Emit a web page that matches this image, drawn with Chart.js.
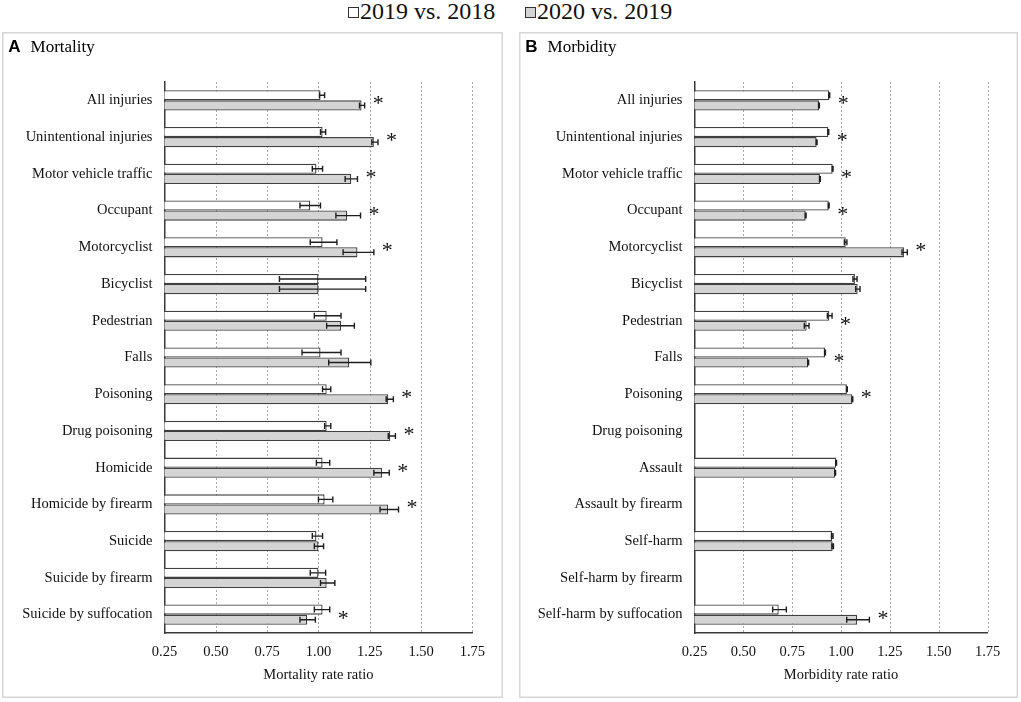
<!DOCTYPE html>
<html><head><meta charset="utf-8">
<script src="https://cdn.jsdelivr.net/npm/chart.js@4.4.0/dist/chart.umd.min.js"></script>
<style>
html,body{margin:0;padding:0;background:#fff;width:1021px;height:702px;overflow:hidden;font-family:"Liberation Serif","Times New Roman",serif;}
.panel{position:absolute;top:32px;height:666px;}
.lbox{position:absolute;top:7px;width:9px;height:9px;border:1px solid #333;}
.ltxt{position:absolute;top:-1px;font-size:24px;line-height:24px;color:#111;white-space:nowrap;}
</style></head><body>
<div id="legend">
  <span class="lbox" style="left:348px;background:#fff"></span><span class="ltxt" id="lt1" style="left:360px"></span>
  <span class="lbox" style="left:525px;background:#d4d4d4"></span><span class="ltxt" id="lt2" style="left:537px"></span>
</div>
<div class="panel" style="left:2px;width:501px"><canvas id="c1"></canvas></div>
<div class="panel" style="left:519px;width:499px"><canvas id="c2"></canvas></div>
<script>
// ---------- data ----------
const seriesNames = ['2019 vs. 2018', '2020 vs. 2019'];
const xTickValues = [0.25, 0.50, 0.75, 1.00, 1.25, 1.50, 1.75];

const mortCategories = ['All injuries','Unintentional injuries','Motor vehicle traffic','Occupant','Motorcyclist','Bicyclist','Pedestrian','Falls','Poisoning','Drug poisoning','Homicide','Homicide by firearm','Suicide','Suicide by firearm','Suicide by suffocation'];
const mort2019 = [1.01, 1.02, 0.99, 0.96, 1.02, 1.00, 1.04, 1.01, 1.04, 1.04, 1.02, 1.03, 0.99, 1.00, 1.02];
const mort2019Lo = [1.005, 1.01, 0.97, 0.91, 0.96, 0.81, 0.98, 0.92, 1.02, 1.03, 0.99, 1.00, 0.97, 0.96, 0.98];
const mort2019Hi = [1.03, 1.035, 1.02, 1.01, 1.09, 1.23, 1.11, 1.11, 1.06, 1.06, 1.055, 1.07, 1.02, 1.035, 1.055];
const mort2020 = [1.21, 1.27, 1.16, 1.14, 1.19, 1.00, 1.11, 1.15, 1.34, 1.35, 1.31, 1.34, 1.00, 1.04, 0.945];
const mort2020Lo = [1.20, 1.26, 1.13, 1.085, 1.12, 0.81, 1.04, 1.05, 1.33, 1.34, 1.27, 1.30, 0.98, 1.01, 0.91];
const mort2020Hi = [1.225, 1.29, 1.19, 1.205, 1.27, 1.23, 1.175, 1.255, 1.365, 1.375, 1.345, 1.39, 1.025, 1.08, 0.985];
const mortSignificant = [1,1,1,1,1,0,0,0,1,1,1,1,0,0,1];

const morbCategories = ['All injuries','Unintentional injuries','Motor vehicle traffic','Occupant','Motorcyclist','Bicyclist','Pedestrian','Falls','Poisoning','Drug poisoning','Assault','Assault by firearm','Self-harm','Self-harm by firearm','Self-harm by suffocation'];
const morb2019 = [0.94, 0.935, 0.957, 0.937, 1.024, 1.071, 0.94, 0.918, 1.03, null, 0.975, null, 0.955, null, 0.681];
const morb2019Lo = [0.938, 0.933, 0.955, 0.935, 1.017, 1.061, 0.93, 0.916, 1.028, null, 0.973, null, 0.951, null, 0.65];
const morb2019Hi = [0.942, 0.937, 0.959, 0.939, 1.03, 1.082, 0.954, 0.920, 1.032, null, 0.977, null, 0.959, null, 0.72];
const morb2020 = [0.887, 0.875, 0.892, 0.819, 1.322, 1.085, 0.824, 0.832, 1.058, null, 0.97, null, 0.957, null, 1.082];
const morb2020Lo = [0.885, 0.873, 0.890, 0.817, 1.312, 1.075, 0.812, 0.830, 1.056, null, 0.968, null, 0.953, null, 1.029];
const morb2020Hi = [0.889, 0.877, 0.894, 0.821, 1.339, 1.097, 0.836, 0.834, 1.060, null, 0.972, null, 0.961, null, 1.145];
const morbSignificant = [1,1,1,1,1,0,1,1,1,0,0,0,0,0,1];

// ---------- legend ----------
document.getElementById('lt1').textContent = seriesNames[0];
document.getElementById('lt2').textContent = seriesNames[1];

const SERIF = '"Liberation Serif", "Times New Roman", serif';

const panelPlugin = {
  id: 'panelDeco',
  beforeDraw(chart, args, opts) {
    const ctx = chart.ctx, w = chart.width, h = chart.height;
    ctx.save();
    ctx.fillStyle = '#fff';
    ctx.fillRect(0, 0, w, h);
    ctx.strokeStyle = '#d6d6d6';
    ctx.lineWidth = 1.5;
    ctx.strokeRect(0.75, 0.75, w - 1.5, h - 1.5);
    ctx.fillStyle = '#000';
    ctx.textBaseline = 'alphabetic';
    ctx.textAlign = 'left';
    ctx.font = 'bold 17px "Liberation Sans", Arial, sans-serif';
    ctx.fillText(opts.letter, 6.3, 20);
    const lw = ctx.measureText(opts.letter).width;
    ctx.font = '17px ' + SERIF;
    ctx.fillText(opts.name, 6.3 + lw + 10, 20);
    ctx.restore();
  },
  beforeDatasetsDraw(chart) {
    const ctx = chart.ctx, xs = chart.scales.x, a = chart.chartArea;
    ctx.save();
    ctx.strokeStyle = '#a9a9a9';
    ctx.lineWidth = 1;
    ctx.setLineDash([2, 2]);
    xs.ticks.forEach(t => {
      if (t.value <= xs.min + 1e-9) return;
      const px = Math.round(xs.getPixelForValue(t.value)) + 0.5;
      ctx.beginPath();
      ctx.moveTo(px, a.top);
      ctx.lineTo(px, a.bottom);
      ctx.stroke();
    });
    ctx.restore();
  },
  afterDatasetsDraw(chart, args, opts) {
    const ctx = chart.ctx, xs = chart.scales.x, ys = chart.scales.y;
    ctx.save();
    ctx.strokeStyle = '#1e1e1e';
    ctx.lineWidth = 1.4;
    chart.data.datasets.forEach((ds, di) => {
      const meta = chart.getDatasetMeta(di);
      meta.data.forEach((el, i) => {
        if (ds.data[i] == null || ds.errLo[i] == null) return;
        const x1 = xs.getPixelForValue(ds.errLo[i]);
        const x2 = xs.getPixelForValue(ds.errHi[i]);
        const y = el.y, c = 3;
        ctx.beginPath();
        ctx.moveTo(x1, y); ctx.lineTo(x2, y);
        ctx.moveTo(x1, y - c); ctx.lineTo(x1, y + c);
        ctx.moveTo(x2, y - c); ctx.lineTo(x2, y + c);
        ctx.stroke();
      });
    });
    ctx.fillStyle = '#111';
    ctx.font = '22px ' + SERIF;
    ctx.textAlign = 'left';
    ctx.textBaseline = 'alphabetic';
    opts.sig.forEach((s, i) => {
      if (!s) return;
      let m = -Infinity;
      chart.data.datasets.forEach(ds => {
        const v = ds.errHi[i] != null ? ds.errHi[i] : ds.data[i];
        if (v != null && v > m) m = v;
      });
      const x = xs.getPixelForValue(m) + 8;
      const y = ys.getPixelForValue(i);
      ctx.fillText('*', x, y + 10);
    });
    ctx.restore();
  }
};

function makeChart(id, cats, a, aLo, aHi, b, bLo, bHi, sig, letter, name, axisTitle, yWidth, rightPad) {
  return new Chart(document.getElementById(id), {
    type: 'bar',
    data: {
      labels: cats,
      datasets: [
        { label: seriesNames[0], data: a, errLo: aLo, errHi: aHi,
          backgroundColor: '#ffffff', borderColor: '#404040', borderWidth: 1.3, borderSkipped: 'start' },
        { label: seriesNames[1], data: b, errLo: bLo, errHi: bHi,
          backgroundColor: '#d4d4d4', borderColor: '#404040', borderWidth: 1.3, borderSkipped: 'start' }
      ]
    },
    options: {
      indexAxis: 'y',
      responsive: true,
      maintainAspectRatio: false,
      animation: false,
      events: [],
      layout: { padding: { top: 50, right: rightPad, bottom: 0, left: 0 } },
      datasets: { bar: { barPercentage: 1.0, categoryPercentage: 0.55 } },
      plugins: {
        legend: { display: false },
        tooltip: { enabled: false },
        panelDeco: { letter: letter, name: name, sig: sig }
      },
      scales: {
        x: {
          type: 'linear', min: xTickValues[0], max: xTickValues[xTickValues.length - 1],
          afterBuildTicks: s => { s.ticks = xTickValues.map(v => ({ value: v })); },
          afterFit: s => { s.height = 65; },
          grid: { display: false, drawTicks: false },
          border: { display: true, color: '#3a3a3a', width: 1.5 },
          ticks: { color: '#111', padding: 10, font: { family: SERIF, size: 14.5 },
                   callback: v => Number(v).toFixed(2), maxRotation: 0, autoSkip: false },
          title: { display: true, text: axisTitle, color: '#111', font: { family: SERIF, size: 14.5 },
                   padding: { top: 0, bottom: 14 } }
        },
        y: {
          afterFit: s => { s.width = yWidth; },
          grid: { display: false, drawTicks: false },
          border: { display: true, color: '#3a3a3a', width: 1.5 },
          ticks: { color: '#111', padding: 12, font: { family: SERIF, size: 14.5 }, autoSkip: false }
        }
      }
    },
    plugins: [panelPlugin]
  });
}

makeChart('c1', mortCategories, mort2019, mort2019Lo, mort2019Hi, mort2020, mort2020Lo, mort2020Hi,
          mortSignificant, 'A', 'Mortality', 'Mortality rate ratio', 162.5, 30.6);
makeChart('c2', morbCategories, morb2019, morb2019Lo, morb2019Hi, morb2020, morb2020Lo, morb2020Hi,
          morbSignificant, 'B', 'Morbidity', 'Morbidity rate ratio', 175.5, 30.4);
</script>
</body></html>
